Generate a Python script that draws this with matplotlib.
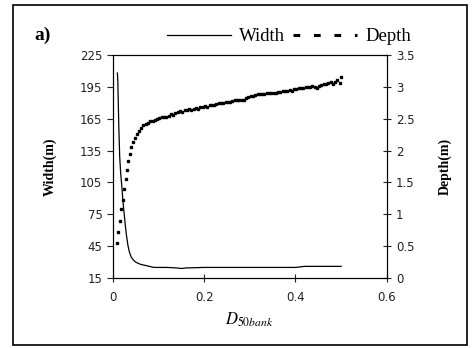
import numpy as np
import matplotlib.pyplot as plt
from matplotlib.lines import Line2D
from matplotlib.patches import Rectangle

# width curve (m) vs D50bank
d50_width = [0.010, 0.011, 0.012, 0.013, 0.015, 0.017, 0.020, 0.022, 0.025, 0.028,
             0.030, 0.033, 0.036, 0.040, 0.045, 0.050, 0.060, 0.070, 0.080, 0.090,
             0.100, 0.120, 0.140, 0.150, 0.160, 0.200, 0.250, 0.300, 0.350, 0.400,
             0.420, 0.450, 0.500]
width = [208, 200, 180, 160, 130, 115, 100, 88, 75, 62,
         55, 46, 40, 35, 32, 30, 28, 27, 26, 25,
         25, 25, 24.5, 24, 24.5, 25, 25, 25, 25, 25,
         26, 26, 26]

# depth points (m) vs D50bank
d50_depth = [0.009, 0.012, 0.015, 0.019, 0.022, 0.025, 0.028, 0.031, 0.034, 0.037,
             0.040, 0.044, 0.048, 0.052, 0.057, 0.062, 0.067, 0.072, 0.077, 0.082,
             0.087, 0.092, 0.097, 0.102, 0.107, 0.112, 0.117, 0.122, 0.127, 0.132,
             0.137, 0.142, 0.147, 0.152, 0.157, 0.162, 0.167, 0.172, 0.177, 0.182,
             0.187, 0.192, 0.197, 0.202, 0.207, 0.212, 0.217, 0.222, 0.227, 0.232,
             0.237, 0.242, 0.247, 0.252, 0.257, 0.262, 0.267, 0.272, 0.277, 0.282,
             0.287, 0.292, 0.297, 0.302, 0.307, 0.312, 0.317, 0.322, 0.327, 0.332,
             0.337, 0.342, 0.347, 0.352, 0.357, 0.362, 0.367, 0.372, 0.377, 0.382,
             0.387, 0.392, 0.397, 0.402, 0.407, 0.412, 0.417, 0.422, 0.427, 0.432,
             0.437, 0.442, 0.447, 0.452, 0.457, 0.462, 0.467, 0.472, 0.477, 0.482,
             0.487, 0.492, 0.497, 0.500]
depth = [0.55, 0.72, 0.90, 1.08, 1.22, 1.40, 1.55, 1.70, 1.83, 1.95,
         2.05, 2.13, 2.20, 2.26, 2.31, 2.36, 2.40, 2.42, 2.44, 2.46,
         2.47, 2.48, 2.49, 2.51, 2.52, 2.53, 2.53, 2.55, 2.57, 2.56,
         2.59, 2.60, 2.62, 2.60, 2.64, 2.63, 2.65, 2.64, 2.66, 2.67,
         2.66, 2.68, 2.69, 2.70, 2.69, 2.71, 2.72, 2.72, 2.73, 2.74,
         2.74, 2.75, 2.76, 2.77, 2.76, 2.78, 2.80, 2.79, 2.80, 2.80,
         2.79, 2.82, 2.84, 2.85, 2.86, 2.87, 2.88, 2.88, 2.89, 2.89,
         2.90, 2.90, 2.90, 2.91, 2.91, 2.92, 2.92, 2.93, 2.93, 2.94,
         2.95, 2.94, 2.96, 2.97, 2.98, 2.98, 2.98, 2.99, 2.99, 3.00,
         3.01, 3.00, 2.98, 3.02, 3.03, 3.04, 3.04, 3.06, 3.07, 3.05,
         3.08, 3.10, 3.06, 3.15]

width_ticks = [15, 45, 75, 105, 135, 165, 195, 225]
depth_ticks = [0, 0.5, 1, 1.5, 2, 2.5, 3, 3.5]
x_ticks = [0, 0.2, 0.4, 0.6]

plt.rcParams['mathtext.fontset'] = 'stix'

fig = plt.figure(figsize=(4.74, 3.48), dpi=100)
ax = fig.add_axes([0.238, 0.201, 0.578, 0.641])
ax.plot(d50_width, width, color='black', lw=0.9)
ax.set_xlim(0, 0.6)
ax.set_ylim(15, 225)
ax.set_xticks(x_ticks)
ax.set_xticklabels(['0', '0.2', '0.4', '0.6'])
ax.set_yticks(width_ticks)
ax.tick_params(axis='x', direction='inout', length=6, labelsize=8.5, pad=6, colors='#222')
ax.tick_params(axis='y', direction='out', length=4, labelsize=8.5, colors='#222')
ax.set_ylabel('Width(m)', family='Liberation Serif', fontweight='bold', fontsize=10, labelpad=17)
ax.set_xlabel(r'$D_{50bank}$', fontsize=12, labelpad=5)

ax2 = ax.twinx()
ax2.plot(d50_depth, depth, ls='none', marker='s', ms=1.7, color='black')
ax2.set_ylim(0, 3.5)
ax2.set_yticks(depth_ticks)
ax2.set_yticklabels(['0', '0.5', '1', '1.5', '2', '2.5', '3', '3.5'])
ax2.tick_params(axis='y', direction='inout', length=6, labelsize=8.5, colors='#222')
ax2.set_ylabel('Depth(m)', family='Liberation Serif', fontweight='bold', fontsize=10, labelpad=17)

for a in (ax, ax2):
    for s in a.spines.values():
        s.set_linewidth(0.8)

handles = [Line2D([], [], color='black', lw=0.9),
           Line2D([], [], color='black', lw=2.2, dashes=(2.2, 4.5))]
fig.legend(handles, ['Width', 'Depth'], loc='center', bbox_to_anchor=(0.61, 0.895),
           ncol=2, frameon=False, handlelength=3.4, columnspacing=0.45, handletextpad=0.45,
           prop={'family': 'Liberation Serif', 'size': 13.5})

fig.text(0.073, 0.885, 'a)', family='Liberation Serif', fontweight='bold', fontsize=14)
fig.patches.append(Rectangle((0.028, 0.008), 0.958, 0.978, transform=fig.transFigure,
                             fill=False, lw=1.2, color='black'))

fig.savefig('out.png', dpi=100)
